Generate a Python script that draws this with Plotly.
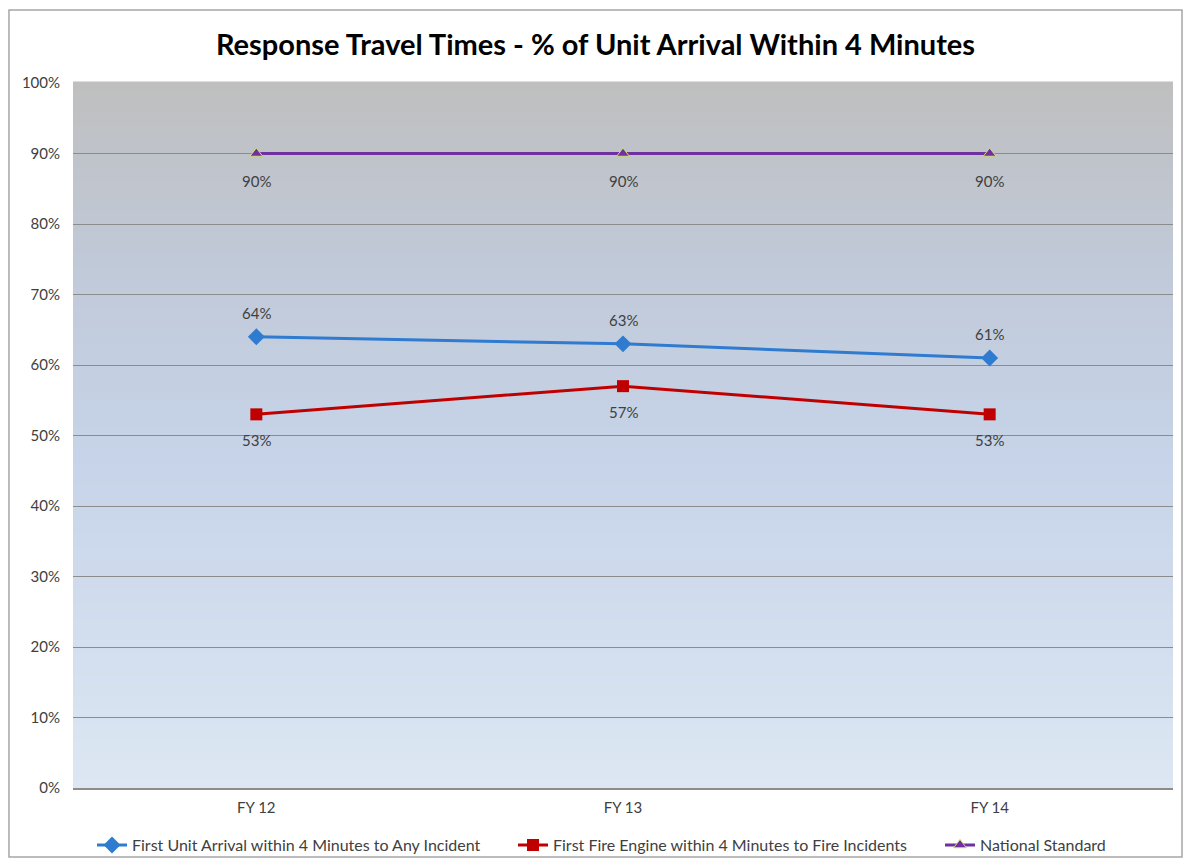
import plotly.graph_objects as go

categories = ["FY 12", "FY 13", "FY 14"]
first_unit = [64, 63, 61]
first_engine = [53, 57, 53]
national_standard = [90, 90, 90]
y_ticks = [0, 10, 20, 30, 40, 50, 60, 70, 80, 90, 100]
y_tick_labels = [f"{v}%" for v in y_ticks]

FONT = "Lato"
TXT = "#404040"

fig = go.Figure()

series = [
    ("First Unit Arrival within 4 Minutes to Any Incident", first_unit, "#2e7bcf", "diamond", 13, 24, "legend", 0.0715),
    ("First Fire Engine within 4 Minutes to Fire Incidents", first_engine, "#c00000", "square", 12, -26, "legend2", 0.4298),
    ("National Standard", national_standard, "#7030a0", "triangle-up", 11, -27, "legend3", 0.7932),
]
annotations = []
legends = {}
for name, vals, color, sym, msize, shift, lg, lx in series:
    mk = dict(symbol=sym, size=msize, color=color)
    if sym == "triangle-up":
        mk["line"] = dict(color="#cfdc7a", width=1)
    fig.add_trace(go.Scatter(
        x=categories, y=vals, mode="lines+markers", name=name,
        line=dict(color=color, width=3), marker=mk, legend=lg,
    ))
    legends[lg] = dict(orientation="h", xref="container", x=lx, xanchor="left",
                       y=-0.081, yanchor="middle",
                       font=dict(family=FONT, size=16, color=TXT),
                       bgcolor="rgba(0,0,0,0)")
    for c, v in zip(categories, vals):
        annotations.append(dict(x=c, y=v, text=f"{v}%", showarrow=False,
                                yshift=shift, xref="x", yref="y",
                                font=dict(family=FONT, size=15, color=TXT)))

# gradient background (styling)
def lerp(c1, c2, t):
    return tuple(round(a + (b - a) * t) for a, b in zip(c1, c2))

stops = [(0.0, (221, 231, 243)), (0.45, (199, 212, 233)), (0.75, (192, 201, 216)), (1.0, (191, 191, 191))]
shapes = []
N = 100
for i in range(N):
    t = (i + 0.5) / N
    for j in range(len(stops) - 1):
        if stops[j][0] <= t <= stops[j + 1][0]:
            tt = (t - stops[j][0]) / (stops[j + 1][0] - stops[j][0])
            c = lerp(stops[j][1], stops[j + 1][1], tt)
            break
    shapes.append(dict(type="rect", xref="paper", yref="paper",
                       x0=0, x1=1, y0=i / N, y1=(i + 1) / N + 0.002,
                       fillcolor=f"rgb{c}", line=dict(width=0), layer="below"))
shapes.append(dict(type="rect", xref="paper", yref="paper",
                   x0=-0.0582, x1=1.0082, y0=-0.0979, y1=1.1035,
                   line=dict(color="#a6a6a6", width=1.5), fillcolor="rgba(0,0,0,0)"))

fig.update_layout(
    width=1175, height=850,
    margin=dict(l=65, r=10, t=75, b=70, autoexpand=False),
    paper_bgcolor="white", plot_bgcolor="rgba(0,0,0,0)",
    shapes=shapes, annotations=annotations,
    title=dict(text="<b>Response Travel Times - % of Unit Arrival Within 4 Minutes</b>",
               x=0.5, xanchor="center", y=0.9565, yanchor="middle",
               font=dict(family=FONT, size=29, color="black")),
    showlegend=True,
    font=dict(family=FONT, color=TXT),
    **legends,
)
fig.update_xaxes(type="category", range=[-0.5, 2.5], showgrid=False,
                 showline=True, linecolor="#8c8c8c", linewidth=1.5,
                 ticks="", ticklabelstandoff=5,
                 tickfont=dict(family=FONT, size=15, color=TXT))
fig.update_yaxes(range=[0, 100], tickvals=y_ticks, ticktext=y_tick_labels,
                 showgrid=True, gridcolor="#8c8c8c", gridwidth=1,
                 zeroline=False, showline=False, ticks="", ticklabelstandoff=12,
                 tickfont=dict(family=FONT, size=15, color=TXT))

fig.write_html("out.html")
